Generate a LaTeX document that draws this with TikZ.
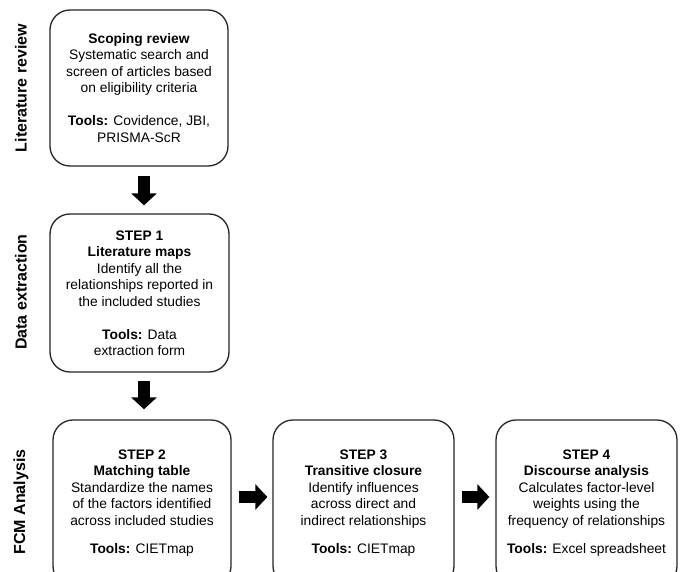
\documentclass[tikz,border=0pt]{standalone}
\usepackage{fontspec}
\setmainfont{Liberation Sans}
\usetikzlibrary{arrows.meta,calc}
\begin{document}
\begin{tikzpicture}[x=1pt,y=-1pt,
  stagebox/.style={draw=black!85, line width=1.3pt, rounded corners=20pt, align=center,
    font=\fontsize{13.8}{16.5}\selectfont, inner sep=0pt},
  sidelabel/.style={rotate=90, font=\fontsize{16}{19}\selectfont\bfseries},
  blockarrow/.style={line width=12pt, black, -{Triangle[width=25pt,length=12pt]}}]
\useasboundingbox (0,0) rectangle (682,572);
\clip (0,0) rectangle (682,572);
\fill[white] (0,0) rectangle (682,572);

\node[sidelabel] (l1) at (21,88) {Literature review};
\node[sidelabel] (l2) at (21,292) {Data extraction};
\node[sidelabel] (l3) at (21,502) {FCM Analysis};

\node[stagebox, minimum width=178pt, minimum height=156pt] (b1) at (139,88)
  {\textbf{Scoping review}\\Systematic search and\\screen of articles based\\on eligibility criteria\\[16.5pt]\textbf{Tools:} Covidence, JBI,\\PRISMA-ScR};
\node[stagebox, minimum width=179pt, minimum height=158pt] (b2) at (139.5,293)
  {\textbf{STEP 1}\\\textbf{Literature maps}\\Identify all the\\relationships reported in\\the included studies\\[16.5pt]\textbf{Tools:} Data\\extraction form};
\node[stagebox, minimum width=178pt, minimum height=166pt] (b3) at (142,503)
  {\textbf{STEP 2}\\\textbf{Matching table}\\Standardize the names\\of the factors identified\\across included studies\\[12pt]\textbf{Tools:} CIETmap};
\node[stagebox, minimum width=181pt, minimum height=166pt] (b4) at (363.5,503)
  {\textbf{STEP 3}\\\textbf{Transitive closure}\\Identify influences\\across direct and\\indirect relationships\\[12pt]\textbf{Tools:} CIETmap};
\node[stagebox, minimum width=181pt, minimum height=166pt] (b5) at (586.5,503)
  {\textbf{STEP 4}\\\textbf{Discourse analysis}\\Calculates factor-level\\weights using the\\frequency of relationships\\[12pt]\textbf{Tools:} Excel spreadsheet};

\draw[blockarrow, shorten >=8pt] ([xshift=5pt,yshift=-9pt]b1.south) -- ([xshift=5pt]b1.south |- b2.north);
\draw[blockarrow, shorten >=10pt] ([xshift=4.5pt,yshift=-8pt]b2.south) -- ([xshift=4.5pt]b2.south |- b3.north);
\draw[blockarrow, shorten >=5pt] ([xshift=7pt,yshift=6pt]b3.east) -- ([yshift=6pt]b3.east -| b4.west);
\draw[blockarrow, shorten >=6pt] ([xshift=7pt,yshift=6pt]b4.east) -- ([yshift=6pt]b4.east -| b5.west);
\end{tikzpicture}
\end{document}
